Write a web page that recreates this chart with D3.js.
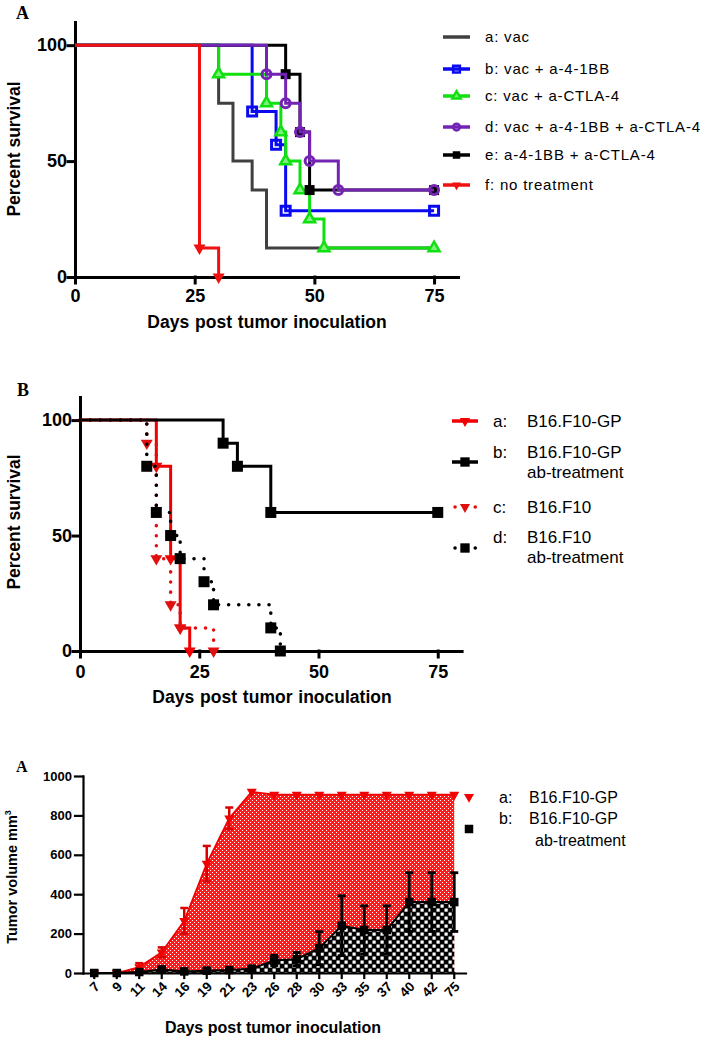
<!DOCTYPE html>
<html><head><meta charset="utf-8">
<script src="https://cdn.jsdelivr.net/npm/d3@7"></script>
<style>
body{margin:0;background:#fff;}
svg text{font-family:"Liberation Sans",Arial,Helvetica,sans-serif;fill:#000;}
</style></head><body>
<svg id="chart" width="717" height="1040"></svg>
<script>
// ================= DATA =================
// Panel A (survival, days / percent)
const aNames = ["a: vac","b: vac + a-4-1BB","c: vac + a-CTLA-4","d: vac + a-4-1BB + a-CTLA-4","e: a-4-1BB + a-CTLA-4","f: no treatment"];
const aVacDays = [0,30,33,37,40,75];
const aVacSurv = [100,75,50,37.5,12.5,12.5];
const aBBDays = [0,37,42,44,75];
const aBBSurv = [100,71.4,57.1,28.6,28.6];
const aCTLADays = [0,30,40,43,44,47,49,52,75];
const aCTLASurv = [100,87.5,75,62.5,50,37.5,25,12.5,12.5];
const aBothDays = [0,40,44,47,49,55,75];
const aBothSurv = [100,87.5,75,62.5,50,37.5,37.5];
const aAbDays = [0,44,47,49,75];
const aAbSurv = [100,87.5,62.5,37.5,37.5];
const aNoneDays = [0,26,30];
const aNoneSurv = [100,12.5,0];
const survTicks = [0,50,100];
const dayTicks = [0,25,50,75];

// Panel B
const bLetters = ["a:","b:","c:","d:"];
const bNames = [["B16.F10-GP"],["B16.F10-GP","ab-treatment"],["B16.F10"],["B16.F10","ab-treatment"]];
const bGPDays = [0,16,19,21,23];
const bGPSurv = [100,80,40,10,0];
const bGPAbDays = [0,30,33,40,75];
const bGPAbSurv = [100,90,80,60,60];
const bF10Days = [0,14,16,19,21,28];
const bF10Surv = [100,90,40,20,10,0];
const bF10AbDays = [0,14,16,19,21,26,28,40,42];
const bF10AbSurv = [100,80,60,50,40,30,20,10,0];

// Panel C (tumor volume)
const cDays = ["7","9","11","14","16","19","21","23","26","28","30","33","35","37","40","42","75"];
const cGPMean = [0,0,30,105,265,555,785,920,905,905,905,905,905,905,905,905,905];
const cGPSem  = [0,0,20,25,65,90,55,0,0,0,0,0,0,0,0,0,0];
const cAbMean = [0,0,5,18,8,12,15,22,64,70,126,240,218,218,360,360,360];
const cAbSem  = [0,0,4,10,4,5,5,6,26,34,84,152,123,123,149,149,149];
const volTicks = [0,200,400,600,800,1000];

// ================= DRAW =================
const svg = d3.select("#chart");
const defs = svg.append("defs");
const pr = defs.append("pattern").attr("id","redDots").attr("width",4).attr("height",4).attr("patternUnits","userSpaceOnUse");
pr.append("rect").attr("width",4).attr("height",4).attr("fill","#ff1c1c");
pr.append("rect").attr("x",0).attr("y",0).attr("width",1).attr("height",1).attr("fill","#fff");
pr.append("rect").attr("x",2).attr("y",2).attr("width",1).attr("height",1).attr("fill","#fff");
const pk = defs.append("pattern").attr("id","checker").attr("width",8).attr("height",8).attr("patternUnits","userSpaceOnUse");
pk.append("rect").attr("width",8).attr("height",8).attr("fill","#000");
pk.append("rect").attr("x",0.5).attr("y",0.5).attr("width",3.2).attr("height",3.2).attr("fill","#fff");
pk.append("rect").attr("x",4.5).attr("y",4.5).attr("width",3.2).attr("height",3.2).attr("fill","#fff");

function symPath(kind, w) {
  if (kind === "square") return d3.symbol(d3.symbolSquare, w*w)();
  if (kind === "circle") return d3.symbol(d3.symbolCircle, Math.PI*(w/2)*(w/2))();
  if (kind === "tri" || kind === "tridown") return d3.symbol(d3.symbolTriangle, w*w*Math.sqrt(3)/4)();
  return null;
}
function drawMarker(g, kind, w, cx, cy, fill, stroke, sw) {
  if (!kind) return;
  return g.append("path").attr("d", symPath(kind, w))
    .attr("fill", fill).attr("stroke", stroke).attr("stroke-width", sw)
    .attr("transform", `translate(${cx},${cy})` + (kind === "tridown" ? " rotate(180)" : ""));
}
function styleAxis(ax, sw, fs) {
  ax.selectAll("path,line").attr("stroke","#000").attr("stroke-width",sw).attr("stroke-linecap","square");
  ax.selectAll("text").attr("font-size",fs).attr("font-weight","bold")
    .attr("font-family",'"Liberation Sans",Arial,sans-serif').attr("fill","#000");
}

function drawKM(opt) {
  const g = svg.append("g");
  const x = d3.scaleLinear().domain([0,80]).range(opt.xRange);
  const y = d3.scaleLinear().domain([0,110]).range(opt.yRange);
  const ya = g.append("g").attr("transform",`translate(${opt.xRange[0]},0)`)
    .call(d3.axisLeft(y).tickValues(survTicks).tickSize(7).tickSizeOuter(0).tickPadding(1));
  styleAxis(ya, 3, 18);
  const xa = g.append("g").attr("transform",`translate(0,${opt.yRange[0]})`)
    .call(d3.axisBottom(x).tickValues(dayTicks).tickSize(6).tickSizeOuter(0));
  styleAxis(xa, 3, 18);
  xa.selectAll("text").attr("y", opt.tickLabelOffset).attr("dy", 0);
  opt.series.forEach(s => {
    const pts = s.days.map((d,i) => [x(d), y(s.surv[i])]);
    const ln = g.append("path").attr("d", d3.line().curve(d3.curveStepAfter)(pts))
      .attr("fill","none").attr("stroke", s.color).attr("stroke-width", s.dotted ? 3.5 : 3);
    if (s.dotted) ln.attr("stroke-dasharray","0.1 10").attr("stroke-linecap","round");
    pts.slice(1).forEach(p => drawMarker(g, s.marker, s.msize, p[0], p[1], s.fill, s.mstroke || s.color, s.msw || 0));
  });
  g.append("text").attr("transform",`translate(${opt.yTitleX},${opt.yTitleY}) rotate(-90)`)
    .attr("text-anchor","middle").attr("font-size",17.5).attr("font-weight","bold").text("Percent survival");
  g.append("text").attr("x", opt.xTitleX).attr("y", opt.xTitleY)
    .attr("text-anchor","middle").attr("font-size",17.5).attr("font-weight","bold").attr("word-spacing","1px")
    .text("Days post tumor inoculation");
  return g;
}

// ---- Panel A ----
const colA = ["#404040","#0a0af0","#10e010","#7424b4","#000000","#f01010"];
const seriesA = [
  {days:aVacDays, surv:aVacSurv, color:colA[0], marker:null},
  {days:aBBDays, surv:aBBSurv, color:colA[1], marker:"square", msize:9, fill:"none", msw:3},
  {days:aCTLADays, surv:aCTLASurv, color:colA[2], marker:"tri", msize:11, fill:"#7cf27c", msw:2.5},
  {days:aAbDays, surv:aAbSurv, color:colA[4], marker:"square", msize:10, fill:"#000", msw:0},
  {days:aBothDays, surv:aBothSurv, color:colA[3], marker:"circle", msize:9, fill:"none", msw:3},
  {days:aNoneDays, surv:aNoneSurv, color:colA[5], marker:"tridown", msize:12, fill:colA[5], msw:0}
];
drawKM({xRange:[75,458], yRange:[277,22], tickLabelOffset:25, series:seriesA,
  yTitleX:20, yTitleY:149, xTitleX:267, xTitleY:328});
svg.append("text").attr("x",16).attr("y",19).attr("font-size",18).attr("font-weight","bold")
  .style("font-family",'"Liberation Serif","Times New Roman",serif').text("A");
const legA = svg.append("g");
const legARows = [37,69,96,127,155,185];
const legAOrder = [0,1,2,4,3,5];
aNames.forEach((nm,i) => {
  const s = seriesA[legAOrder[i]];
  const yy = legARows[i];
  legA.append("line").attr("x1",443).attr("x2",470).attr("y1",yy).attr("y2",yy)
    .attr("stroke", s.color).attr("stroke-width",3.5);
  if (s.marker) drawMarker(legA, s.marker, s.msize*0.75, 456.5, yy, s.fill, s.color, s.msw ? 2.5 : 0);
  legA.append("text").attr("x",485).attr("y",yy).attr("dy","0.36em").attr("font-size",15)
    .attr("letter-spacing","0.8px").text(nm);
});

// ---- Panel B ----
const seriesB = [
  {days:bGPDays, surv:bGPSurv, color:"#f00000", marker:"tridown", msize:12, fill:"#f00000"},
  {days:bGPAbDays, surv:bGPAbSurv, color:"#000", marker:"square", msize:11, fill:"#000"},
  {days:bF10Days, surv:bF10Surv, color:"#e01010", dotted:true, marker:"tridown", msize:12, fill:"#e01010"},
  {days:bF10AbDays, surv:bF10AbSurv, color:"#000", dotted:true, marker:"square", msize:11, fill:"#000"}
];
drawKM({xRange:[80,461.6], yRange:[651,397], tickLabelOffset:27, series:seriesB,
  yTitleX:20, yTitleY:522, xTitleX:272, xTitleY:703});
svg.append("text").attr("x",17).attr("y",396).attr("font-size",18).attr("font-weight","bold")
  .style("font-family",'"Liberation Serif","Times New Roman",serif').text("B");
const legB = svg.append("g");
const legBLine = [421,462,507,548];
const legBText = [[421],[452,472],[507],[537,557]];
seriesB.forEach((s,i) => {
  const yy = legBLine[i];
  const ln = legB.append("line").attr("x1",452).attr("x2",478).attr("y1",yy).attr("y2",yy)
    .attr("stroke", s.color).attr("stroke-width", 3.5);
  if (s.dotted) ln.attr("stroke-dasharray","0.1 10").attr("stroke-linecap","round").attr("x1",455);
  drawMarker(legB, s.marker, s.msize*0.85, 465, yy, s.fill, s.color, 0);
  legB.append("text").attr("x",493).attr("y",legBText[i][0]).attr("dy","0.36em").attr("font-size",17).text(bLetters[i]);
  bNames[i].forEach((t,j) => legB.append("text").attr("x",527).attr("y",legBText[i][j]).attr("dy","0.36em")
    .attr("font-size",17).text(t));
});

// ---- Panel C ----
const gC = svg.append("g");
const xC = d3.scaleBand().domain(cDays).range([83,465.5]);
const cx = d => xC(d) + xC.bandwidth()/2;
const yC = d3.scaleLinear().domain([0,1000]).range([973,776]);
const gpPts = cDays.map((d,i) => ({d, v:cGPMean[i], e:cGPSem[i]}));
const abPts = cDays.map((d,i) => ({d, v:cAbMean[i], e:cAbSem[i]}));
const area = d3.area().x(p => cx(p.d)).y0(yC(0)).y1(p => yC(p.v));
const line = d3.line().x(p => cx(p.d)).y(p => yC(p.v));
gC.append("path").attr("d", area(gpPts)).attr("fill","url(#redDots)");
gC.append("path").attr("d", area(abPts)).attr("fill","url(#checker)");
gC.append("path").attr("d", line(gpPts)).attr("fill","none").attr("stroke","#f00000").attr("stroke-width",1.8);
function errBars(pts, color, sw) {
  pts.filter(p => p.e > 0).forEach(p => {
    const X = cx(p.d);
    gC.append("line").attr("x1",X).attr("x2",X).attr("y1",yC(p.v - p.e)).attr("y2",yC(p.v + p.e))
      .attr("stroke",color).attr("stroke-width",sw);
    [p.v - p.e, p.v + p.e].forEach(v => gC.append("line").attr("x1",X-4).attr("x2",X+4)
      .attr("y1",yC(v)).attr("y2",yC(v)).attr("stroke",color).attr("stroke-width",sw));
  });
}
errBars(gpPts, "#d80000", 2.5);
gpPts.forEach(p => drawMarker(gC, "tridown", 10, cx(p.d), yC(p.v), "#f00000", "#f00000", 0));
gC.append("path").attr("d", line(abPts)).attr("fill","none").attr("stroke","#000").attr("stroke-width",2);
errBars(abPts, "#000", 2.8);
abPts.forEach(p => drawMarker(gC, "square", 8.5, cx(p.d), yC(p.v), "#000", "#000", 0));
const yaC = gC.append("g").attr("transform","translate(83,0)")
  .call(d3.axisLeft(yC).tickValues(volTicks).tickFormat(d3.format("d")).tickSize(8).tickSizeOuter(0).tickPadding(3));
styleAxis(yaC, 2.2, 13);
const xaC = gC.append("g").attr("transform","translate(0,973)")
  .call(d3.axisBottom(xC).tickSize(5).tickSizeOuter(0));
styleAxis(xaC, 2.2, 13.5);
xaC.selectAll(".tick text").attr("text-anchor","end").attr("y",0).attr("dy","0.35em")
  .attr("transform","translate(3,11) rotate(-45)");
gC.append("text").attr("transform","translate(17,877) rotate(-90)").attr("text-anchor","middle")
  .attr("font-size",14.5).attr("font-weight","bold")
  .call(t => { t.append("tspan").text("Tumor volume mm"); t.append("tspan").attr("dy",-6).attr("font-size",9).text("3"); });
gC.append("text").attr("x",273).attr("y",1033).attr("text-anchor","middle").attr("font-size",16)
  .attr("font-weight","bold").text("Days post tumor inoculation");
svg.append("text").attr("x",16).attr("y",772).attr("font-size",16).attr("font-weight","bold")
  .style("font-family",'"Liberation Serif","Times New Roman",serif').text("A");
const legC = svg.append("g");
drawMarker(legC, "tridown", 10, 469, 797, "#f00000", "#f00000", 0);
drawMarker(legC, "square", 8.5, 469, 829, "#000", "#000", 0);
legC.append("text").attr("x",499).attr("y",797).attr("dy","0.36em").attr("font-size",16).text("a:");
legC.append("text").attr("x",529).attr("y",797).attr("dy","0.36em").attr("font-size",16).text("B16.F10-GP");
legC.append("text").attr("x",499).attr("y",818).attr("dy","0.36em").attr("font-size",16).text("b:");
legC.append("text").attr("x",529).attr("y",818).attr("dy","0.36em").attr("font-size",16).text("B16.F10-GP");
legC.append("text").attr("x",535).attr("y",840).attr("dy","0.36em").attr("font-size",16).text("ab-treatment");
</script>
</body></html>
